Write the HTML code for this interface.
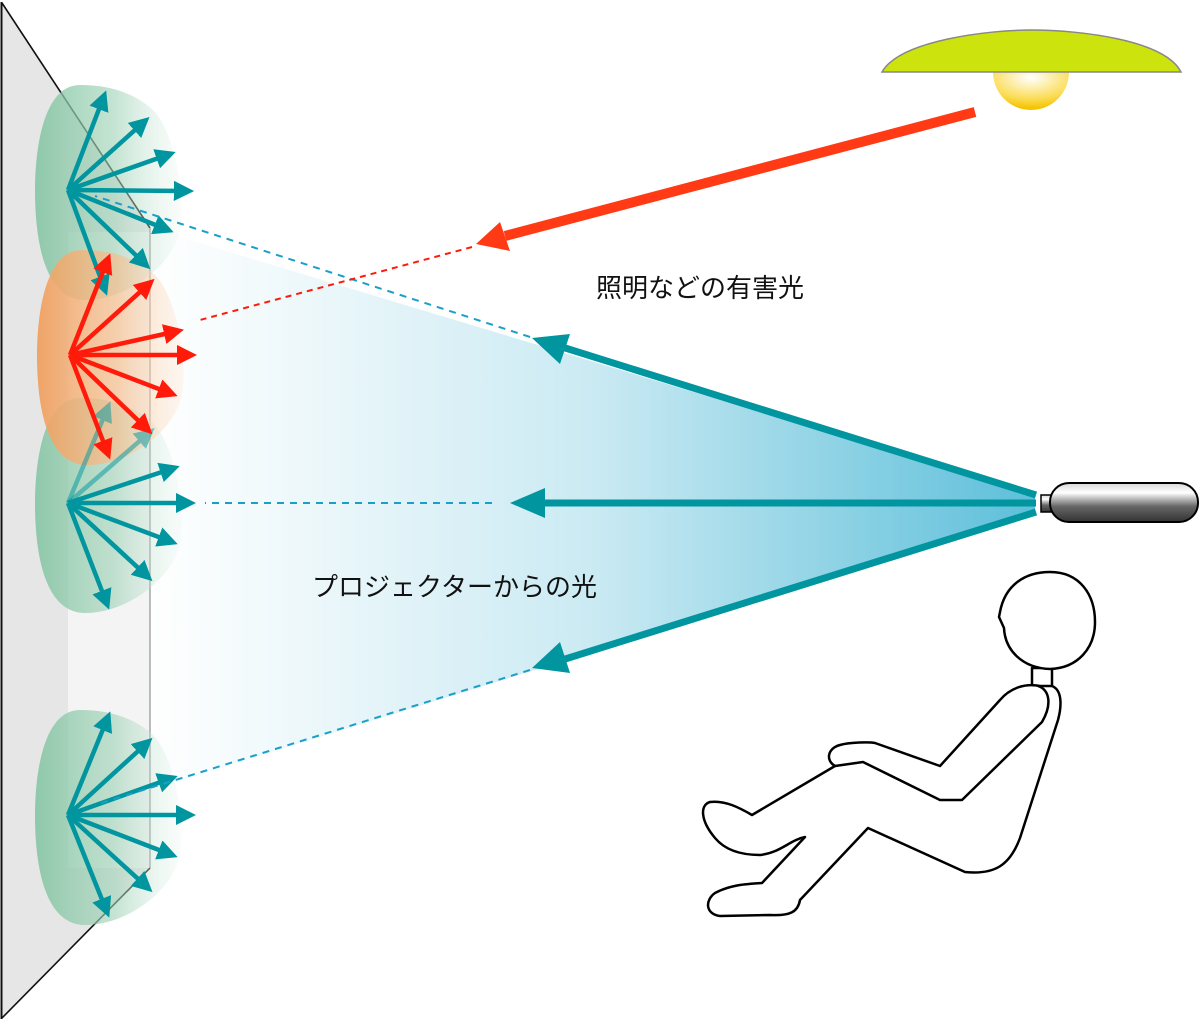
<!DOCTYPE html>
<html><head><meta charset="utf-8"><style>
html,body{margin:0;padding:0;background:#fff}
svg{display:block}
text{font-family:"Liberation Sans","Noto Sans CJK JP",sans-serif;font-size:26px;fill:#111}
</style></head><body>
<svg width="1200" height="1021" viewBox="0 0 1200 1021" xmlns="http://www.w3.org/2000/svg">
<defs>
<linearGradient id="beam" x1="0" x2="1" y1="0" y2="0">
<stop offset="0" stop-color="#ffffff"/><stop offset="0.5" stop-color="#c8e9f2"/><stop offset="1" stop-color="#55bcd8"/></linearGradient>
<linearGradient id="gb" x1="0" x2="1"><stop offset="0" stop-color="#7fc3a0" stop-opacity="0.85"/><stop offset="0.55" stop-color="#9fd2b6" stop-opacity="0.6"/><stop offset="1" stop-color="#d8eee2" stop-opacity="0.15"/></linearGradient>
<linearGradient id="ob" x1="0" x2="1"><stop offset="0" stop-color="#f0a060" stop-opacity="0.95"/><stop offset="0.55" stop-color="#f6c08f" stop-opacity="0.7"/><stop offset="1" stop-color="#fde6d2" stop-opacity="0.3"/></linearGradient>
<linearGradient id="proj" x1="0" x2="0" y1="0" y2="1"><stop offset="0" stop-color="#d8d8d8"/><stop offset="0.25" stop-color="#ffffff"/><stop offset="0.6" stop-color="#666"/><stop offset="1" stop-color="#333"/></linearGradient>
<radialGradient id="bulb" cx="0.5" cy="0.15" r="0.8"><stop offset="0" stop-color="#ffffff"/><stop offset="0.7" stop-color="#fbdc55"/><stop offset="1" stop-color="#f4c400"/></radialGradient>
<marker id="ta" viewBox="0 0 10 10" refX="7" refY="5" markerWidth="4.5" markerHeight="4.5" orient="auto" markerUnits="strokeWidth"><path d="M0,0 L10,5 L0,10 Z" fill="#00959f"/></marker>
<marker id="ra" viewBox="0 0 10 10" refX="7" refY="5" markerWidth="4.5" markerHeight="4.5" orient="auto" markerUnits="strokeWidth"><path d="M0,0 L10,5 L0,10 Z" fill="#ff1a0a"/></marker>
<g id="blob"><path d="M12,-105 C-25,-105 -33,-40 -33,0 C-33,60 -20,110 17,110 C60,110 105,75 112,40 C118,0 105,-60 85,-80 C65,-98 40,-105 12,-105 Z"/></g>
</defs>
<polygon points="1,2 150,228 150,868 1,1019" fill="#e6e6e6"/>
<rect x="68" y="232" width="82" height="636" fill="#f4f4f4"/>
<polyline points="2,3 150,228" stroke="#111" stroke-width="1.6" fill="none"/>
<polyline points="150,868 2,1018" stroke="#111" stroke-width="1.6" fill="none"/>
<line x1="1.5" y1="2" x2="1.5" y2="1019" stroke="#111" stroke-width="2"/>
<polygon points="1035,495 150,228 150,790 1035,514" fill="url(#beam)" opacity="0.95"/>
<line x1="150" y1="228" x2="150" y2="868" stroke="#999" stroke-width="1.3"/>
<use href="#blob" transform="translate(68,190)" fill="url(#gb)"/>
<use href="#blob" transform="translate(68,503)" fill="url(#gb)"/>
<use href="#blob" transform="translate(68,815)" fill="url(#gb)"/>
<use href="#blob" transform="translate(70,355)" fill="url(#ob)"/>
<g stroke="#00959f" stroke-width="4.5" marker-end="url(#ta)" fill="none">
<line x1="68" y1="190" x2="104" y2="96"/><line x1="68" y1="190" x2="145" y2="121"/><line x1="68" y1="190" x2="170" y2="154"/><line x1="68" y1="190" x2="188" y2="191"/><line x1="68" y1="190" x2="168" y2="230"/><line x1="68" y1="190" x2="146" y2="265"/><line x1="68" y1="190" x2="105" y2="290"/>
<line x1="68" y1="503" x2="108" y2="407" opacity="0.5"/><line x1="68" y1="503" x2="150" y2="432" opacity="0.5"/><line x1="68" y1="503" x2="174" y2="468"/><line x1="68" y1="503" x2="190" y2="503"/><line x1="68" y1="503" x2="172" y2="542"/><line x1="68" y1="503" x2="148" y2="577"/><line x1="68" y1="503" x2="107" y2="604"/>
<line x1="68" y1="815" x2="108" y2="717"/><line x1="68" y1="815" x2="148" y2="742"/><line x1="68" y1="815" x2="172" y2="778"/><line x1="68" y1="815" x2="190" y2="815"/><line x1="68" y1="815" x2="172" y2="855"/><line x1="68" y1="815" x2="148" y2="888"/><line x1="68" y1="815" x2="107" y2="912"/>
</g>
<g stroke="#ff1a0a" stroke-width="4.5" marker-end="url(#ra)" fill="none">
<line x1="70" y1="355" x2="108" y2="259"/><line x1="70" y1="355" x2="150" y2="283"/><line x1="70" y1="355" x2="178" y2="331"/><line x1="70" y1="355" x2="191" y2="355"/><line x1="70" y1="355" x2="172" y2="394"/><line x1="70" y1="355" x2="148" y2="430"/><line x1="70" y1="355" x2="108" y2="454"/>
</g>
<g stroke="#1aa0c8" stroke-width="2" stroke-dasharray="7,6" fill="none">
<line x1="530" y1="337" x2="95" y2="196"/><line x1="492" y1="503" x2="205" y2="503"/><line x1="530" y1="670" x2="95" y2="805"/>
</g>
<line x1="472" y1="247" x2="200" y2="320" stroke="#ff1a0a" stroke-width="2" stroke-dasharray="6,5"/>
<g stroke="#00959f" stroke-width="7" fill="none">
<line x1="1036" y1="495" x2="562" y2="347"/><line x1="1036" y1="503" x2="545" y2="503"/><line x1="1036" y1="512" x2="562" y2="660"/>
</g>
<g fill="#00959f">
<polygon points="532,338 570,334 560,364"/><polygon points="510,503 545,488 545,518"/><polygon points="532,668 560,642 570,673"/>
</g>
<line x1="975" y1="112" x2="505" y2="236" stroke="#ff3a14" stroke-width="10"/>
<polygon points="476,244 500,222 510,251" fill="#ff3a14"/>
<path d="M1031,72 m-38,0 a38,38 0 0 0 76,0 Z" fill="url(#bulb)"/>
<path d="M882,72 C900,40 990,30 1031,30 C1080,30 1165,40 1181,72 Z" fill="#cde30d" stroke="#888" stroke-width="1.5"/>
<rect x="1041" y="495" width="14" height="17" fill="url(#proj)" stroke="#000" stroke-width="1.5"/>
<rect x="1050" y="483" width="148" height="39" rx="19" fill="url(#proj)" stroke="#000" stroke-width="2"/>
<text x="596" y="297">照明などの有害光</text>
<text x="312" y="596">プロジェクターからの光</text>
<g fill="#fff" stroke="#000" stroke-width="2.5" stroke-linejoin="round">
<path d="M1032,668 L1032,688 L1052,688 L1052,668 Z"/>
<path d="M1000,612 C1005,585 1025,572 1050,572 C1080,572 1095,595 1095,622 C1095,648 1078,668 1050,669 C1022,668 1005,650 1004,628 L999,617 Z"/>
<path d="M1052,686 C1062,690 1062,705 1058,720 L1020,838 C1010,865 995,875 965,872 L868,828 L800,900 C798,912 790,916 770,915 L720,916 C705,914 705,900 715,893 C730,885 745,884 762,883 L805,837 C790,840 780,853 760,855 C740,855 725,850 715,838 C700,820 700,805 710,802 C725,800 740,808 752,815 L835,766 C825,760 828,748 840,745 C850,742 870,742 875,743 L940,766 L1000,700 C1010,688 1025,683 1040,686 Z"/>
<path d="M1038,686 C1050,690 1052,705 1042,722 L962,800 L940,800 L863,762 L835,766" fill="none"/>
</g>
</svg>
</body></html>
